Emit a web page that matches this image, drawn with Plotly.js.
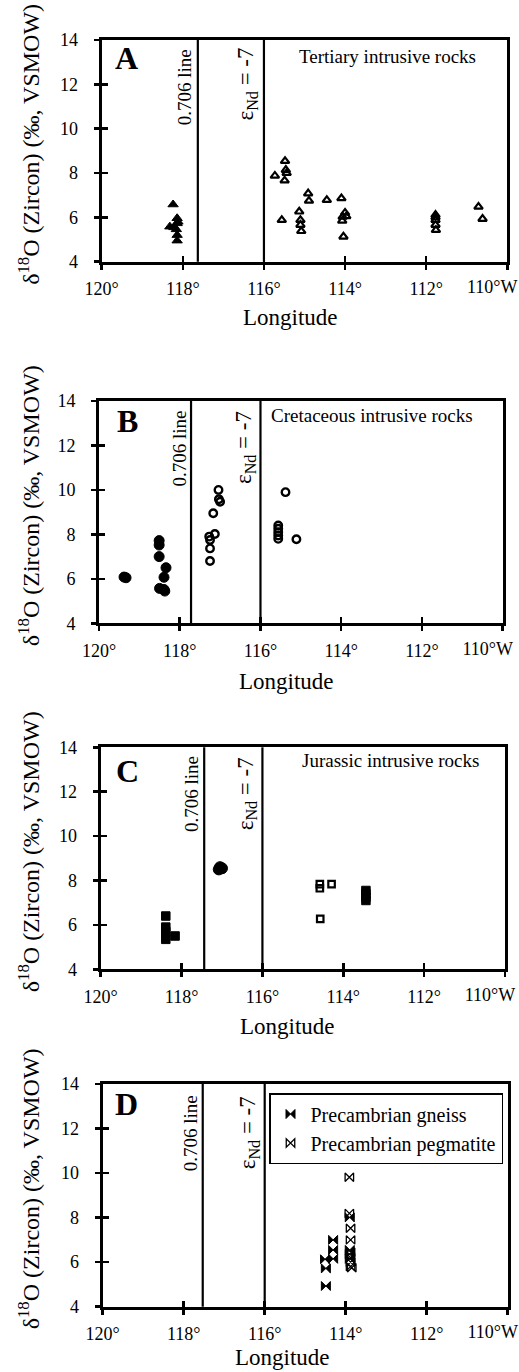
<!DOCTYPE html>
<html><head><meta charset="utf-8">
<script src="https://cdn.plot.ly/plotly-3.0.1.min.js"></script>
<style>html,body{margin:0;padding:0;background:#fff;}#chart{width:519px;height:1372px;}</style>
</head><body><div id="chart"></div>
<script>
// ---------------- DATA ----------------
const lonTicks = [120, 118, 116, 114, 112, 110];
const lonTickText = ['120°', '118°', '116°', '114°', '112°', '110°W'];
const d18oTicks = [4, 6, 8, 10, 12, 14];

const panelLetters = ['A', 'B', 'C', 'D'];
const panelLabels = ['Tertiary intrusive rocks', 'Cretaceous intrusive rocks', 'Jurassic intrusive rocks', ''];

// 0.706 line and eNd = -7 line longitudes (deg W) for panels A-D
const line706Lon = [117.63, 117.72, 117.44, 117.53];
const lineENdLon = [116.0, 116.0, 116.0, 116.0];

// Panel A - Tertiary intrusive rocks
const tertFilledLon = [118.24, 118.32, 118.22, 118.14, 118.14, 118.12, 118.16, 118.14, 118.14];
const tertFilledD18O = [6.58, 5.58, 5.55, 5.96, 5.73, 5.80, 5.46, 5.20, 4.95];
const tertOpenLon = [115.73, 115.48, 115.46, 115.44, 115.49, 115.56, 115.13, 115.10, 115.10, 115.08, 114.91, 114.89, 114.45, 114.09, 114.04, 114.00, 114.06, 113.97, 114.07, 111.77, 111.77, 111.77, 111.76, 111.77, 110.71, 110.61];
const tertOpenD18O = [7.88, 8.54, 8.14, 8.00, 7.66, 5.88, 6.26, 5.88, 5.66, 5.38, 7.08, 6.75, 6.78, 6.86, 5.13, 6.21, 6.03, 6.05, 5.85, 6.11, 5.88, 5.66, 5.43, 6.00, 6.48, 5.93];

// Panel B - Cretaceous intrusive rocks
const cretFilledLon = [119.38, 119.33, 118.51, 118.51, 118.51, 118.34, 118.39, 118.50, 118.39, 118.37];
const cretFilledD18O = [6.08, 6.05, 7.72, 7.52, 7.00, 6.50, 6.07, 5.57, 5.52, 5.45];
const cretOpenLon = [117.04, 117.03, 117.00, 117.17, 117.13, 117.27, 117.25, 117.25, 117.25, 115.38, 115.56, 115.56, 115.56, 115.56, 115.56, 115.11];
const cretOpenD18O = [10.0, 9.58, 9.47, 8.95, 8.02, 7.90, 7.75, 7.37, 6.80, 9.90, 8.40, 8.25, 8.10, 7.95, 7.80, 7.78];

// Panel C - Jurassic intrusive rocks
const jurFilledSqLon = [118.39, 118.39, 118.39, 118.39, 118.39, 118.16, 113.44, 113.44, 113.44, 113.44];
const jurFilledSqD18O = [6.40, 5.90, 5.70, 5.50, 5.35, 5.50, 7.55, 7.40, 7.25, 7.10];
const jurFilledCircLon = [117.05, 117.00, 117.08];
const jurFilledCircD18O = [8.60, 8.55, 8.50];
const jurOpenSqLon = [114.58, 114.58, 114.29, 114.57];
const jurOpenSqD18O = [7.84, 7.65, 7.84, 6.27];

// Panel D - Precambrian
const gneissLon = [114.49, 114.49, 114.51, 114.31, 114.31, 114.31, 113.90, 113.90, 113.90, 113.90];
const gneissD18O = [4.93, 5.72, 6.13, 6.15, 6.55, 7.00, 8.01, 6.55, 6.35, 6.15];
const pegLon = [113.91, 113.91, 113.88, 113.88, 113.88, 113.88, 113.88, 113.85, 113.88];
const pegD18O = [9.81, 8.19, 7.52, 7.00, 6.45, 6.20, 5.80, 5.75, 6.00];

// ---------------- LAYOUT HELPERS ----------------
const W = 519, H = 1372;
const FONT = '"Liberation Serif", "Times New Roman", serif';
const fx = p => p / W, fy = p => 1 - p / H;

// plot frames in pixels: [left, right, top, bottom]
const frames = [
  [101.7, 507.3, 40, 261.7],
  [99, 502.7, 401, 623.3],
  [100.7, 505, 747.3, 969.3],
  [102.7, 507.7, 1084, 1306.7]
];
const letterPos = [[126.5, 58.5], [127.5, 421], [127, 771], [126.5, 1104]];
const labelPos = [[387, 56], [372, 415], [390, 760], null];
const line706Shift = [-7, -8, -7, -9];
const eNdShift = [-5, -8, -8, -10];
const xTitlePos = [[290, 317], [286, 681], [288, 1026], [282, 1357]];

const lastIdx = lonTicks.length - 1;
const mainTickText = lonTickText.map((t, k) => k === lastIdx ? '' : t);

const traces = [];
const layout = {
  width: W, height: H,
  margin: {l: 0, r: 0, t: 0, b: 0},
  paper_bgcolor: '#fff', plot_bgcolor: 'rgba(0,0,0,0)',
  showlegend: true,
  legend: {
    x: fx(269), y: fy(1093), xanchor: 'left', yanchor: 'top',
    bgcolor: '#fff', bordercolor: '#000', borderwidth: 1.5,
    font: {family: FONT, size: 20, color: '#000'},
    itemwidth: 30, tracegroupgap: 0
  },
  shapes: [], annotations: [],
  font: {family: FONT, color: '#000'}
};

function axisCommon() {
  return {showgrid: false, zeroline: false, fixedrange: true, color: '#000'};
}
const TICKFONT = {family: FONT, size: 18, color: '#000'};

for (let i = 0; i < 4; i++) {
  const f = frames[i];
  const n = i + 1, s = n === 1 ? '' : String(n);
  const ov = i + 5, ov2 = i + 9;
  const xd = [fx(f[0]), fx(f[1])], yd = [fy(f[3]), fy(f[2])];
  layout['xaxis' + s] = Object.assign(axisCommon(), {
    domain: xd, anchor: 'y' + s, range: [120, 110],
    tickmode: 'array', tickvals: lonTicks, ticktext: mainTickText,
    ticks: 'outside', ticklen: 5, tickwidth: 2.5, tickcolor: '#000',
    showline: true, linewidth: 3, linecolor: '#000', mirror: true,
    tickfont: TICKFONT, ticklabelstandoff: 4, ticklabeloverflow: 'allow'
  });
  layout['yaxis' + s] = Object.assign(axisCommon(), {
    domain: yd, anchor: 'x' + s, range: [4, 14],
    tickmode: 'array', tickvals: d18oTicks,
    ticks: 'outside', ticklen: 5, tickwidth: 2.5, tickcolor: '#000',
    showline: true, linewidth: 3, linecolor: '#000', mirror: true,
    tickfont: TICKFONT, ticklabelstandoff: 12
  });
  // overlay axes for the inner half of the crossing ticks
  layout['xaxis' + ov] = Object.assign(axisCommon(), {
    domain: xd, overlaying: 'x' + s, anchor: 'y' + s, range: [120, 110],
    tickmode: 'array', tickvals: lonTicks, ticks: 'inside', ticklen: 6, tickwidth: 2.5,
    tickcolor: '#000', showticklabels: false, showline: false
  });
  layout['yaxis' + ov] = Object.assign(axisCommon(), {
    domain: yd, overlaying: 'y' + s, anchor: 'x' + s, range: [4, 14],
    tickmode: 'array', tickvals: d18oTicks, ticks: 'inside', ticklen: 6, tickwidth: 2.5,
    tickcolor: '#000', showticklabels: false, showline: false
  });
  // overlay axis that carries only the last (right-edge) tick label, nudged inward
  layout['xaxis' + ov2] = Object.assign(axisCommon(), {
    domain: xd, overlaying: 'x' + s, anchor: 'y' + s, range: [120, 110],
    tickmode: 'array', tickvals: [lonTicks[lastIdx]], ticktext: [lonTickText[lastIdx]],
    ticks: 'outside', ticklen: 5, tickcolor: 'rgba(0,0,0,0)', showline: false,
    tickfont: TICKFONT, ticklabelstandoff: 4, ticklabelshift: 15, ticklabeloverflow: 'allow'
  });
  traces.push({x: [], y: [], xaxis: 'x' + ov, yaxis: 'y' + s, type: 'scatter', mode: 'markers', showlegend: false, hoverinfo: 'skip'});
  traces.push({x: [], y: [], xaxis: 'x' + ov2, yaxis: 'y' + s, type: 'scatter', mode: 'markers', showlegend: false, hoverinfo: 'skip'});
  traces.push({x: [], y: [], xaxis: 'x' + s, yaxis: 'y' + ov, type: 'scatter', mode: 'markers', showlegend: false, hoverinfo: 'skip'});

  // vertical reference lines
  [line706Lon[i], lineENdLon[i]].forEach(v => {
    layout.shapes.push({type: 'line', xref: 'x' + s, yref: 'y' + s + ' domain', x0: v, x1: v, y0: 0, y1: 1,
      line: {color: '#000', width: 2.2}, layer: 'above'});
  });
  layout.annotations.push({
    text: '0.706 line', xref: 'x' + s, yref: 'y' + s + ' domain', x: line706Lon[i], y: 1,
    xanchor: 'right', yanchor: 'top', yshift: line706Shift[i], textangle: -90, showarrow: false,
    font: {family: FONT, size: 19, color: '#000'}
  });
  layout.annotations.push({
    text: 'ε<sub>Nd</sub> = -7', xref: 'x' + s, yref: 'y' + s + ' domain', x: lineENdLon[i], y: 1,
    xanchor: 'right', yanchor: 'top', yshift: eNdShift[i], textangle: -90, showarrow: false,
    font: {family: FONT, size: 23, color: '#000'}
  });
  layout.annotations.push({
    text: '<b>' + panelLetters[i] + '</b>', xref: 'paper', yref: 'paper',
    x: fx(letterPos[i][0]), y: fy(letterPos[i][1]), xanchor: 'center', yanchor: 'middle',
    showarrow: false, font: {family: FONT, size: 32, color: '#000'}
  });
  if (labelPos[i]) {
    layout.annotations.push({
      text: panelLabels[i], xref: 'paper', yref: 'paper',
      x: fx(labelPos[i][0]), y: fy(labelPos[i][1]), xanchor: 'center', yanchor: 'middle',
      showarrow: false, font: {family: FONT, size: 19, color: '#000'}
    });
  }
  layout.annotations.push({
    text: 'Longitude', xref: 'paper', yref: 'paper',
    x: fx(xTitlePos[i][0]), y: fy(xTitlePos[i][1]), xanchor: 'center', yanchor: 'middle',
    showarrow: false, font: {family: FONT, size: 23, color: '#000'}
  });
  layout.annotations.push({
    text: 'δ<sup>18</sup>O (Zircon) (‰, VSMOW)', xref: 'paper', yref: 'paper',
    x: fx(29), y: fy((f[2] + f[3]) / 2 - 6), xanchor: 'center', yanchor: 'middle', textangle: -90,
    showarrow: false, font: {family: FONT, size: 24, color: '#000'}
  });
}

function pts(x, y, ax, sym, size, lw, name, legend) {
  return {
    type: 'scatter', mode: 'markers', x: x, y: y, xaxis: 'x' + ax, yaxis: 'y' + ax,
    name: name || '', showlegend: !!legend, hoverinfo: 'x+y',
    marker: {symbol: sym, size: size, color: '#000', line: {color: '#000', width: lw}}
  };
}

traces.push(pts(tertFilledLon, tertFilledD18O, '', 'triangle-up', 9, 1, 'Tertiary (west)'));
traces.push(pts(tertOpenLon, tertOpenD18O, '', 'triangle-up-open', 7.5, 2.2, 'Tertiary (east)'));
traces.push(pts(cretFilledLon, cretFilledD18O, '2', 'circle', 10, 1, 'Cretaceous (west)'));
traces.push(pts(cretOpenLon, cretOpenD18O, '2', 'circle-open', 7.5, 2.4, 'Cretaceous (east)'));
traces.push(pts(jurFilledSqLon, jurFilledSqD18O, '3', 'square', 8.5, 1, 'Jurassic (square)'));
traces.push(pts(jurFilledCircLon, jurFilledCircD18O, '3', 'circle', 11, 1, 'Jurassic (circle)'));
traces.push(pts(jurOpenSqLon, jurOpenSqD18O, '3', 'square-open', 6.5, 2.2, 'Jurassic (open)'));
traces.push(pts(gneissLon, gneissD18O, '4', 'bowtie', 9, 1, 'Precambrian gneiss', true));
traces.push(pts(pegLon, pegD18O, '4', 'bowtie-open', 8.5, 1.3, 'Precambrian pegmatite', true));

Plotly.newPlot('chart', traces, layout, {displayModeBar: false, staticPlot: true});
</script>
</body></html>
